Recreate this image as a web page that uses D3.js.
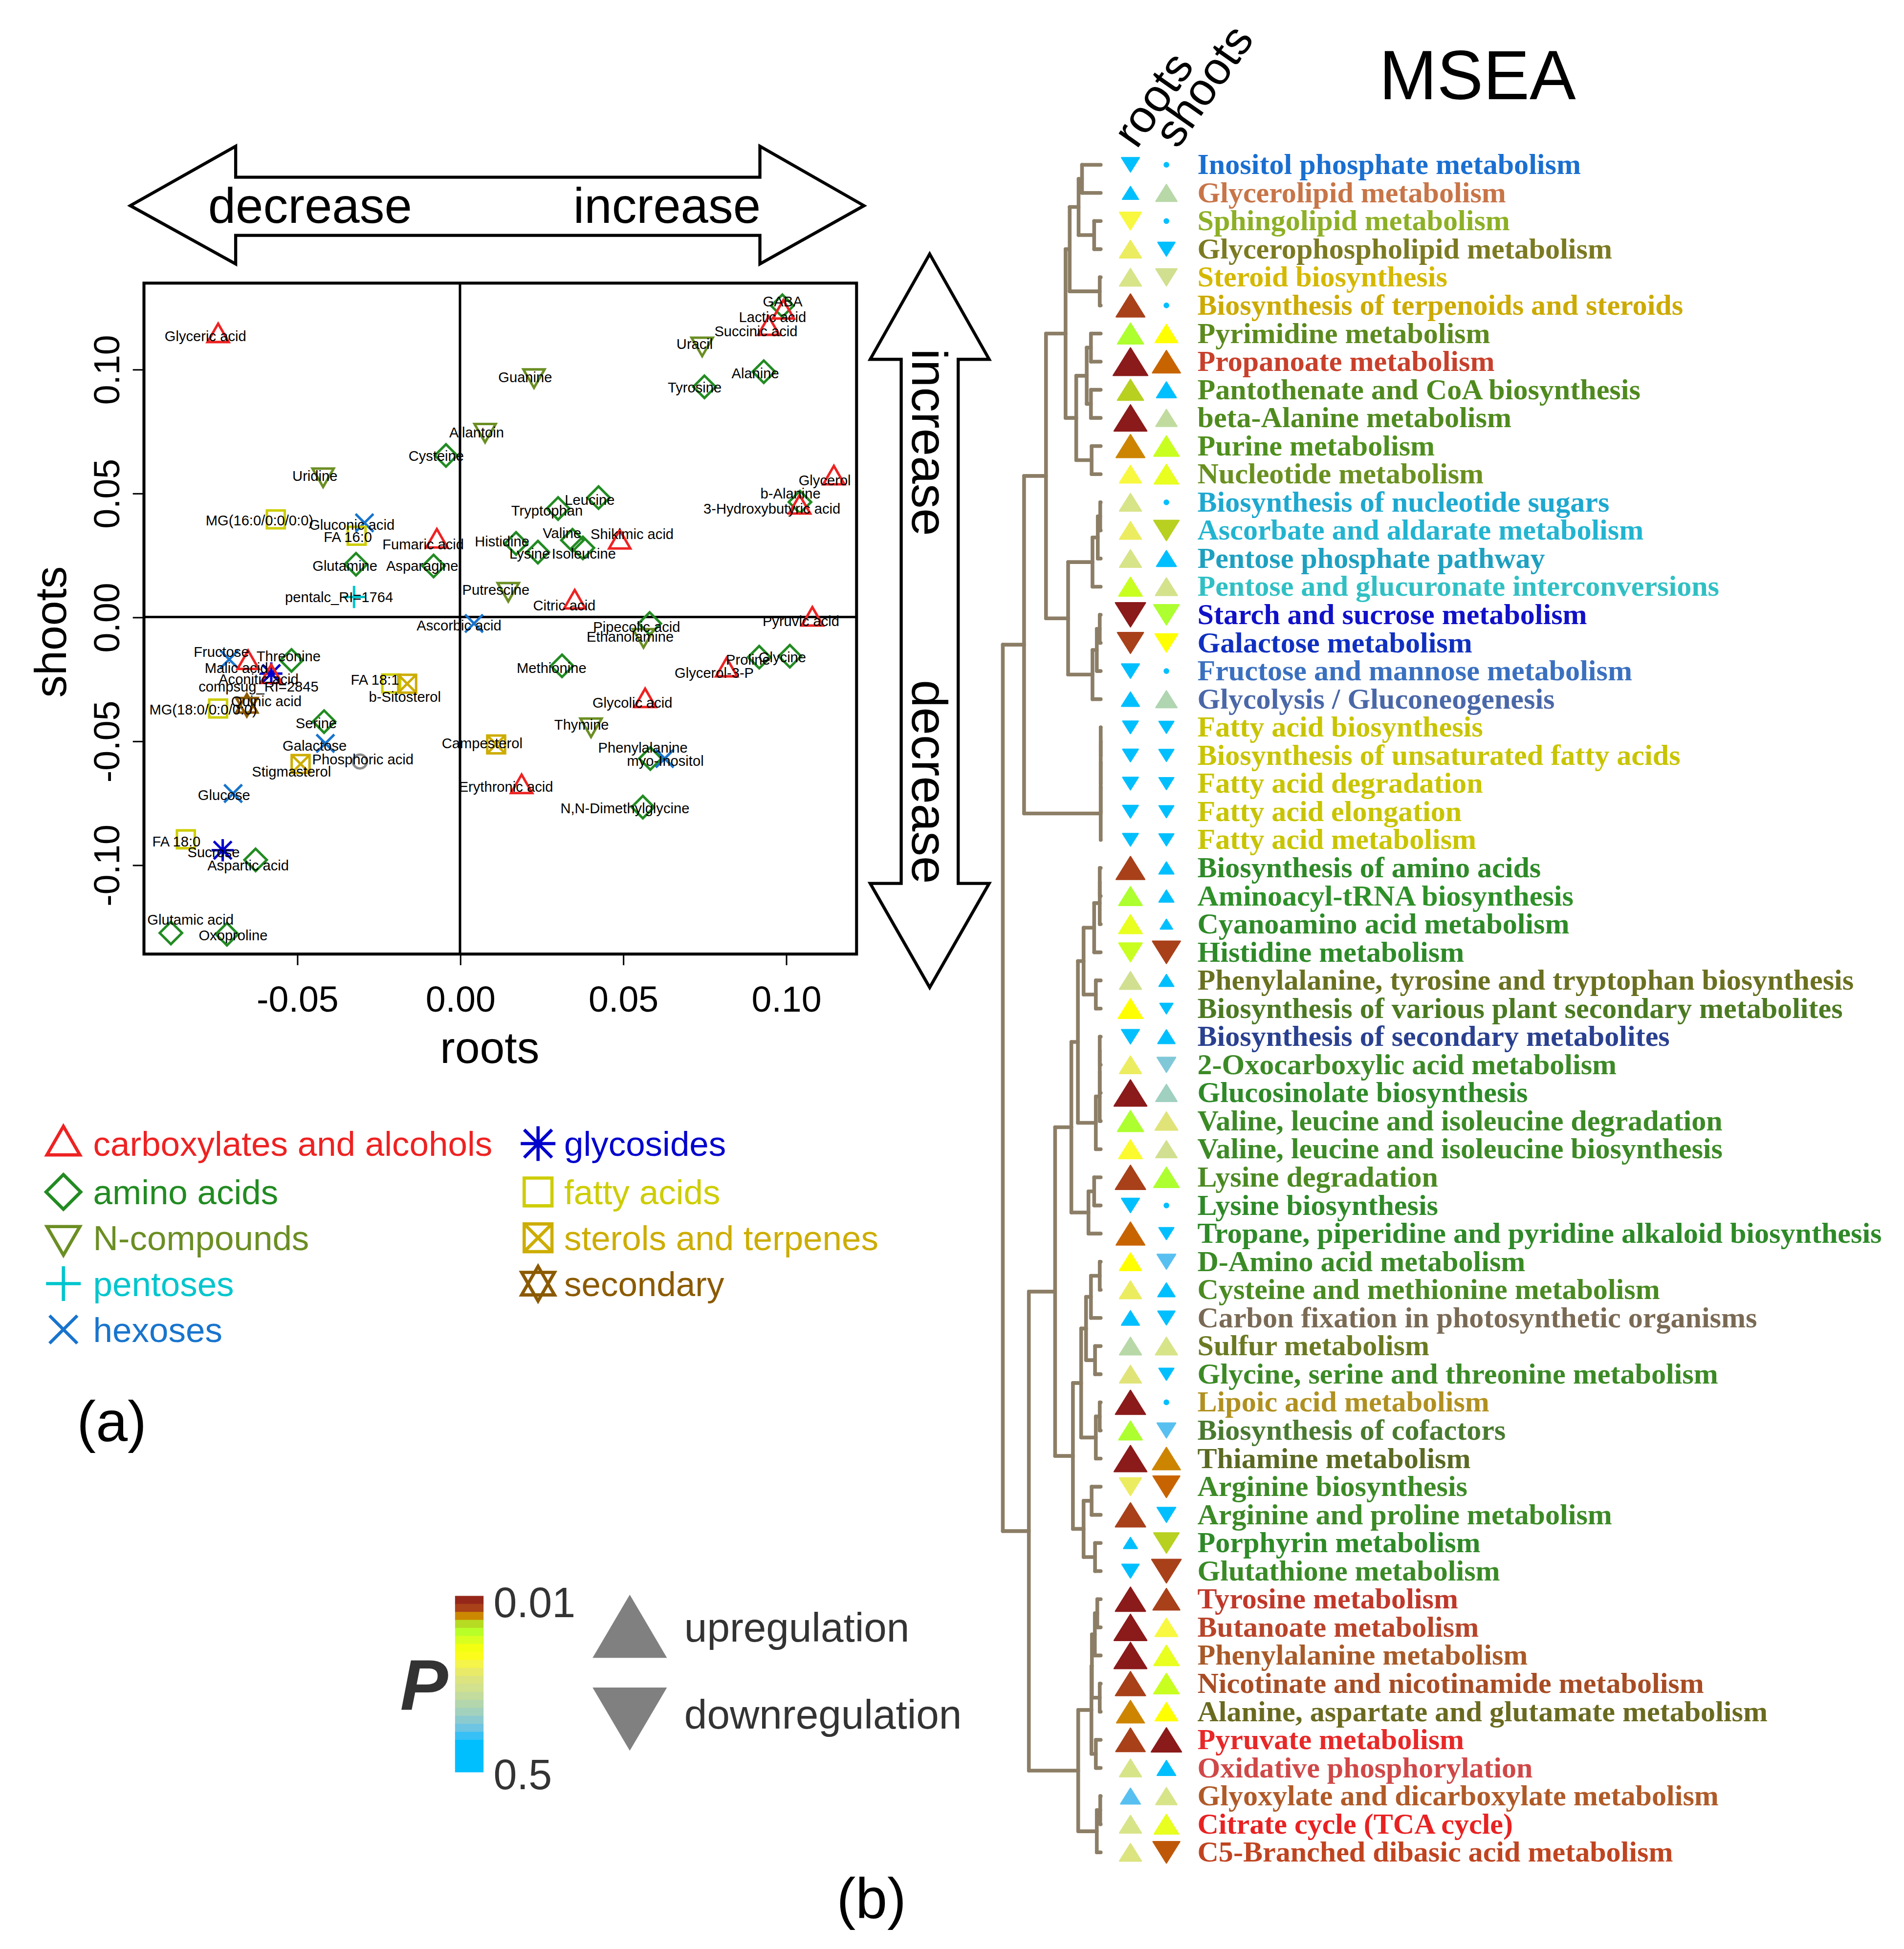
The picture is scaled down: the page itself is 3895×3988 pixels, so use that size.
<!DOCTYPE html>
<html>
<head>
<meta charset="utf-8">
<script src="https://cdn.jsdelivr.net/npm/d3@7"></script>
<style>
  body { margin: 0; background: #fff; }
</style>
</head>
<body>
<svg id="fig"></svg>
<script>
// ---------- panel (a) data: metabolite changes in roots / shoots ----------
const metaboliteNames = ["Glyceric acid","Allantoin","Cysteine","Uridine","MG(16:0/0:0/0:0)","Gluconic acid","FA 16:0","Fumaric acid","Glutamine","Asparagine","pentalc_RI=1764","GABA","Lactic acid","Succinic acid","Uracil","Guanine","Alanine","Tyrosine","Glycerol","b-Alanine","3-Hydroxybutyric acid","Leucine","Tryptophan","Valine","Isoleucine","Shikimic acid","Histidine","Lysine","Putrescine","Citric acid","Pyruvic acid","Ascorbic acid","Fructose","Malic acid","Threonine","compsug_RI=2845","Aconitic acid","Quinic acid","MG(18:0/0:0/0:0)","Serine","Galactose","Stigmasterol","Phosphoric acid","FA 18:1","b-Sitosterol","Campesterol","Erythronic acid","Glucose","FA 18:0","Sucrose","Aspartic acid","Glutamic acid","Oxoproline","Pipecolic acid","Ethanolamine","Methionine","Proline","Glycine","Glycerol-3-P","Glycolic acid","Thymine","Phenylalanine","myo-Inositol","N,N-Dimethylglycine"];
const metaboliteClass = ["carbox","ncomp","amino","ncomp","fatty","hexose","fatty","carbox","amino","amino","pentose","amino","carbox","carbox","ncomp","ncomp","amino","amino","carbox","amino","carbox","amino","amino","amino","amino","carbox","amino","amino","ncomp","carbox","carbox","hexose","hexose","carbox","amino","glycoside","carbox","secondary","fatty","amino","hexose","sterol","other","fatty","sterol","sterol","carbox","hexose","fatty","glycoside","amino","amino","amino","amino","ncomp","amino","amino","amino","carbox","carbox","ncomp","amino","hexose","amino"];
const rootsChange = [-0.0742,0.0077,-0.0043,-0.042,-0.0565,-0.0293,-0.0317,-0.0071,-0.0319,-0.0081,-0.0325,0.0989,0.0992,0.0947,0.0743,0.0227,0.0932,0.075,0.1147,0.1043,0.1042,0.0425,0.0301,0.0345,0.0377,0.049,0.0172,0.0239,0.0148,0.0352,0.1081,0.0043,-0.0708,-0.065,-0.0517,-0.0579,-0.0579,-0.0654,-0.0742,-0.0417,-0.0413,-0.0489,-0.0307,-0.0211,-0.0162,0.0111,0.0189,-0.0696,-0.0841,-0.0728,-0.0627,-0.0887,-0.0715,0.0582,0.0563,0.0313,0.0918,0.1012,0.0818,0.0568,0.0402,0.0584,0.0628,0.0561];
const shootsChange = [0.1139,0.075,0.0652,0.057,0.0394,0.038,0.0328,0.031,0.0213,0.0206,0.0081,0.1256,0.1234,0.1168,0.1098,0.097,0.099,0.0929,0.0565,0.0464,0.0447,0.0482,0.0438,0.031,0.0279,0.0306,0.0297,0.0262,0.0108,0.0064,-0.0005,-0.0026,-0.0171,-0.018,-0.0175,-0.0228,-0.0237,-0.0356,-0.0369,-0.0422,-0.051,-0.0593,-0.0583,-0.0268,-0.0269,-0.0514,-0.0681,-0.0712,-0.0897,-0.0941,-0.098,-0.1275,-0.128,-0.0026,-0.0078,-0.0197,-0.0162,-0.0158,-0.021,-0.0334,-0.0439,-0.0571,-0.0571,-0.0767];
// label anchor points (data units), as placed in the original figure
const labelRoots = [-0.0781,0.0051,-0.0073,-0.0445,-0.0615,-0.0332,-0.0344,-0.0113,-0.0353,-0.0116,-0.0371,0.099,0.0959,0.0908,0.072,0.02,0.0906,0.072,0.1119,0.1014,0.0957,0.0398,0.0267,0.0313,0.038,0.0528,0.0129,0.0214,0.011,0.032,0.1046,-0.0003,-0.0732,-0.0686,-0.0526,-0.0618,-0.0618,-0.0594,-0.0788,-0.0441,-0.0446,-0.0517,-0.0298,-0.0261,-0.0169,0.0068,0.0141,-0.0724,-0.087,-0.0756,-0.065,-0.0827,-0.0696,0.0542,0.0522,0.0281,0.0884,0.0989,0.078,0.0529,0.0373,0.0561,0.063,0.0506];
const labelShoots = [0.1133,0.0746,0.065,0.057,0.0391,0.0372,0.0323,0.0294,0.0206,0.0206,0.008,0.1274,0.121,0.1153,0.1102,0.0968,0.0983,0.0926,0.0552,0.0499,0.0438,0.0473,0.0429,0.0338,0.0256,0.0335,0.0305,0.0256,0.011,0.0046,-0.0017,-0.0034,-0.014,-0.0206,-0.0158,-0.028,-0.025,-0.034,-0.0373,-0.0428,-0.052,-0.0624,-0.0574,-0.0253,-0.0322,-0.051,-0.0685,-0.0719,-0.0906,-0.095,-0.1002,-0.1222,-0.1284,-0.0039,-0.008,-0.0206,-0.0173,-0.0162,-0.0225,-0.0345,-0.0435,-0.0527,-0.058,-0.0771];

const classKeys = ["carbox","amino","ncomp","pentose","hexose","glycoside","fatty","sterol","secondary","other"];
const classLabels = ["carboxylates and alcohols","amino acids","N-compounds","pentoses","hexoses","glycosides","fatty acids","sterols and terpenes","secondary",""];
const xTicks = [-0.05, 0, 0.05, 0.10];
const yTicks = [-0.10, -0.05, 0, 0.05, 0.10];

// ---------- panel (b) data: MSEA ----------
const pathways = ["Inositol phosphate metabolism","Glycerolipid metabolism","Sphingolipid metabolism","Glycerophospholipid metabolism","Steroid biosynthesis","Biosynthesis of terpenoids and steroids","Pyrimidine metabolism","Propanoate metabolism","Pantothenate and CoA biosynthesis","beta-Alanine metabolism","Purine metabolism","Nucleotide metabolism","Biosynthesis of nucleotide sugars","Ascorbate and aldarate metabolism","Pentose phosphate pathway","Pentose and glucuronate interconversions","Starch and sucrose metabolism","Galactose metabolism","Fructose and mannose metabolism","Glycolysis / Gluconeogenesis","Fatty acid biosynthesis","Biosynthesis of unsaturated fatty acids","Fatty acid degradation","Fatty acid elongation","Fatty acid metabolism","Biosynthesis of amino acids","Aminoacyl-tRNA biosynthesis","Cyanoamino acid metabolism","Histidine metabolism","Phenylalanine, tyrosine and tryptophan biosynthesis","Biosynthesis of various plant secondary metabolites","Biosynthesis of secondary metabolites","2-Oxocarboxylic acid metabolism","Glucosinolate biosynthesis","Valine, leucine and isoleucine degradation","Valine, leucine and isoleucine biosynthesis","Lysine degradation","Lysine biosynthesis","Tropane, piperidine and pyridine alkaloid biosynthesis","D-Amino acid metabolism","Cysteine and methionine metabolism","Carbon fixation in photosynthetic organisms","Sulfur metabolism","Glycine, serine and threonine metabolism","Lipoic acid metabolism","Biosynthesis of cofactors","Thiamine metabolism","Arginine biosynthesis","Arginine and proline metabolism","Porphyrin metabolism","Glutathione metabolism","Tyrosine metabolism","Butanoate metabolism","Phenylalanine metabolism","Nicotinate and nicotinamide metabolism","Alanine, aspartate and glutamate metabolism","Pyruvate metabolism","Oxidative phosphorylation","Glyoxylate and dicarboxylate metabolism","Citrate cycle (TCA cycle)","C5-Branched dibasic acid metabolism"];
// direction: 1 = up, -1 = down, 0 = not tested (dot)
const rootsDir = [-1,1,-1,1,1,1,1,1,1,1,1,1,1,1,1,1,-1,-1,-1,1,-1,-1,-1,-1,-1,1,1,1,-1,1,1,-1,1,1,1,1,1,-1,1,1,1,1,1,1,1,1,1,-1,1,1,-1,1,1,1,1,1,1,1,1,1,1];
const rootsP = [0.35,0.35,0.042,0.052,0.07,0.013,0.021,0.01,0.018,0.01,0.0155,0.042,0.07,0.052,0.07,0.024,0.01,0.013,0.35,0.35,0.35,0.35,0.35,0.35,0.35,0.013,0.021,0.029,0.024,0.08,0.035,0.35,0.052,0.01,0.021,0.04,0.013,0.35,0.0145,0.035,0.052,0.35,0.105,0.06,0.01,0.021,0.01,0.052,0.013,0.35,0.35,0.01,0.01,0.01,0.013,0.0155,0.013,0.07,0.21,0.07,0.065];
const rootsImpact = [0.48,0.43,0.59,0.59,0.59,0.77,0.7,0.93,0.7,0.88,0.77,0.59,0.59,0.59,0.59,0.63,0.81,0.7,0.48,0.48,0.42,0.42,0.42,0.42,0.42,0.77,0.63,0.63,0.63,0.59,0.66,0.48,0.59,0.88,0.7,0.63,0.81,0.48,0.77,0.59,0.59,0.48,0.59,0.59,0.81,0.63,0.88,0.59,0.81,0.37,0.46,0.81,0.88,0.88,0.81,0.75,0.79,0.59,0.53,0.59,0.59];
const shootsDir = [0,1,0,-1,-1,0,1,1,1,1,1,1,0,-1,1,1,-1,-1,0,1,-1,-1,-1,-1,-1,1,1,1,-1,1,-1,1,-1,1,1,1,1,0,-1,-1,1,-1,1,-1,0,-1,1,-1,-1,-1,-1,1,1,1,1,1,1,1,1,1,-1];
const shootsP = [0.5,0.105,0.5,0.35,0.08,0.5,0.035,0.0145,0.35,0.095,0.024,0.029,0.5,0.018,0.35,0.075,0.021,0.035,0.5,0.115,0.35,0.35,0.35,0.35,0.35,0.35,0.35,0.35,0.013,0.35,0.35,0.35,0.17,0.135,0.06,0.08,0.021,0.5,0.35,0.21,0.35,0.35,0.07,0.35,0.5,0.21,0.0155,0.0145,0.35,0.018,0.013,0.013,0.042,0.029,0.024,0.035,0.01,0.35,0.07,0.029,0.014];
const shootsImpact = [0,0.57,0,0.46,0.57,0,0.61,0.75,0.53,0.57,0.68,0.66,0,0.68,0.53,0.59,0.68,0.61,0,0.57,0.4,0.4,0.4,0.4,0.4,0.4,0.4,0.33,0.75,0.4,0.35,0.46,0.5,0.57,0.61,0.57,0.68,0,0.4,0.5,0.46,0.46,0.59,0.4,0,0.5,0.75,0.72,0.5,0.68,0.79,0.72,0.61,0.68,0.68,0.61,0.81,0.5,0.57,0.66,0.72];

// hierarchical clustering of pathways (leaf = pathway index, h = relative merge height)
const n = (h, a, b) => ({ h, kids: [a, b] });
const clusterTree = n(1.0,
  n(0.783,
    n(0.559,
      n(0.359,
        n(0.317, n(0.226, n(0.191, 0, 1), n(0.067, 2, 3)), n(0.01, 4, 5)),
        n(0.25, n(0.143, n(0.1, 6, 7), n(0.1, 8, 9)), n(0.093, 10, 11))),
      n(0.333,
        n(0.084, n(0.03, n(0.005, 12, 13), 14), 15),
        n(0.084, n(0.04, n(0.01, 16, 17), 18), 19))),
    n(0, n(0, n(0, n(0, 20, 21), 22), 23), 24)),
  n(0.734,
    n(0.466,
      n(0.3,
        n(0.233,
          n(0.175, n(0.067, n(0.01, n(0.01, 25, 26), 27), 28), n(0.05, 29, 30)),
          n(0.05, n(0.01, n(0.01, n(0.01, 31, 32), 33), 34), 35)),
        n(0.125, n(0.067, 36, 37), 38)),
      n(0.284,
        n(0.2,
          n(0.15, n(0.1, n(0.01, 39, 40), 41), n(0.058, 42, 43)),
          n(0.05, n(0.01, 44, 45), 46)),
        n(0.175, n(0.093, 47, 48), n(0.058, 49, 50)))),
    n(0.23,
      n(0.095, n(0.09, n(0.06, n(0.035, 51, 52), 53), n(0.01, 54, 55)), n(0.05, 56, 57)),
      n(0.04, n(0.005, 58, 59), 60))));

// P colour key (log scale from 0.01 to 0.5)
const pBreaks = [0.01,0.013,0.0145,0.0155,0.018,0.021,0.024,0.029,0.035,0.042,0.052,0.06,0.07,0.08,0.105,0.135,0.17,0.21,0.25,0.5];
const pColors = ["#8B1A1A","#A8401A","#C86400","#CD8500","#B8D020","#ADFF2F","#C8FF20","#E8FF20","#FFFF00","#F8F840","#ECEC60","#E0E478","#D8E488","#D0E090","#B8D8A8","#A0D0C0","#80C8D8","#58C0F0","#00BFFF","#00BFFF"];

// ---------- styles ----------
const classColors = ["#EE2222","#228B22","#6B8E23","#00C5CD","#1874CD","#0000CD","#CDCD00","#CDAD00","#8B5A00","#8C8C8C"];
const classShapes = ["tri","diamond","triDown","plus","cross","asterisk","square","squareCross","star","circle"];
const pathwayColors = ["#1A6FD0","#C87548","#8DB026","#7C7A22","#D4B800","#CCAA00","#5C8A1E","#C8402C","#4F8A1E","#4F8A1E","#4F8F1E","#6A9020","#1EA8D0","#22B4D0","#1EA0C0","#30C0C4","#1010C8","#1030C0","#3A70C0","#4A68A8","#C8C400","#C8C400","#C8C400","#C8C400","#C8C400","#2E8A28","#2E9028","#2E8A28","#2E8A28","#6A7020","#4C7A22","#2A4090","#3C8A26","#2E8A28","#3C8A26","#3C8A26","#4C8A22","#2E8A28","#2E8A28","#3A8A26","#4A8A22","#7A6A55","#6A7A22","#3C8A26","#B09020","#4A7A30","#5A6A22","#3C8A26","#3C8A26","#2E8A28","#3A8A26","#C0382A","#B8442A","#A85A28","#A84C24","#6A6A20","#E82828","#D04848","#B05A28","#E82222","#C04420"];

const SANS = "'Liberation Sans', Arial, Helvetica, sans-serif";
const SERIF = "'Liberation Serif', 'Times New Roman', serif";
const W = 1536, H = 1573;

const svg = d3.select("#fig")
  .attr("width", 3895).attr("height", 3988)
  .attr("viewBox", `0 0 ${W} ${H}`);
svg.append("rect").attr("width", W).attr("height", H).attr("fill", "#fff");

function symbolPath(kind, r) {
  const c = 0.8 * r;
  const tri = `M0,${-r}L${0.95 * r},${0.65 * r}L${-0.95 * r},${0.65 * r}Z`;
  const triDown = `M0,${r}L${0.95 * r},${-0.65 * r}L${-0.95 * r},${-0.65 * r}Z`;
  const sq = `M${-c},${-c}H${c}V${c}H${-c}Z`;
  const cross = `M${-c},${-c}L${c},${c}M${-c},${c}L${c},${-c}`;
  const plus = `M${-r},0H${r}M0,${-r}V${r}`;
  switch (kind) {
    case "tri": return tri;
    case "triDown": return triDown;
    case "diamond": return `M0,${-r}L${r},0L0,${r}L${-r},0Z`;
    case "square": return sq;
    case "squareCross": return sq + cross;
    case "plus": return plus;
    case "cross": return cross;
    case "asterisk": return plus + cross;
    case "star": return tri + triDown;
    default: return d3.arc()({ innerRadius: 0, outerRadius: 0.62 * r, startAngle: 0, endAngle: 2 * Math.PI }).replace(/L0,0Z?$/, "Z");
  }
}

// ---------- arrows ----------
const arrowLine = d3.line();
svg.append("path")
  .attr("d", arrowLine([[105,166],[190,118],[190,143],[613,143],[613,118],[697,166],[613,213],[613,190],[190,190],[190,213]]) + "Z")
  .attr("fill", "#fff").attr("stroke", "#000").attr("stroke-width", 2.5).attr("stroke-linejoin", "miter");
svg.append("path")
  .attr("d", arrowLine([[750,205],[798,290],[773,290],[773,713],[798,713],[750,797],[702,713],[727,713],[727,290],[702,290]]) + "Z")
  .attr("fill", "#fff").attr("stroke", "#000").attr("stroke-width", 2.5);
const arrowText = svg.append("g").attr("font-family", SANS).attr("font-size", 40).attr("text-anchor", "middle");
arrowText.append("text").attr("x", 250).attr("y", 180).text("decrease");
arrowText.append("text").attr("x", 538).attr("y", 180).text("increase");
arrowText.append("text").attr("transform", "translate(736,357) rotate(90)").text("increase");
arrowText.append("text").attr("transform", "translate(736,631) rotate(90)").text("decrease");

// ---------- scatter plot ----------
const x = d3.scaleLinear().domain([-0.09696, 0.12167]).range([116, 691]);
const y = d3.scaleLinear().domain([-0.136, 0.13475]).range([770, 228.5]);
const fmt = v => v.toFixed(2);

const gx = svg.append("g").attr("transform", "translate(0,770)")
  .call(d3.axisBottom(x).tickValues(xTicks).tickSize(9).tickPadding(17).tickFormat(fmt));
gx.attr("font-size", 29).attr("font-family", SANS);
gx.select(".domain").remove();
gx.selectAll(".tick line").attr("stroke", "#000").attr("stroke-width", 1.2);
gx.selectAll(".tick text").attr("fill", "#000");

const gy = svg.append("g").attr("transform", "translate(116,0)")
  .call(d3.axisLeft(y).tickValues(yTicks).tickSize(9).tickFormat(fmt));
gy.attr("font-size", 29).attr("font-family", SANS);
gy.select(".domain").remove();
gy.selectAll(".tick line").attr("stroke", "#000").attr("stroke-width", 1.2);
gy.selectAll(".tick text").attr("fill", "#000")
  .attr("transform", "rotate(-90)").attr("x", 0).attr("y", -20).attr("dy", 0)
  .attr("text-anchor", "middle");

svg.append("line").attr("x1", x(0)).attr("x2", x(0)).attr("y1", y.range()[1]).attr("y2", y.range()[0])
  .attr("stroke", "#000").attr("stroke-width", 2);
svg.append("line").attr("x1", x.range()[0]).attr("x2", x.range()[1]).attr("y1", y(0)).attr("y2", y(0))
  .attr("stroke", "#000").attr("stroke-width", 2);
svg.append("rect").attr("x", 116).attr("y", 228.5).attr("width", 575).attr("height", 541.5)
  .attr("fill", "none").attr("stroke", "#000").attr("stroke-width", 2.4);

svg.append("text").attr("x", 395).attr("y", 858).attr("text-anchor", "middle")
  .attr("font-family", SANS).attr("font-size", 36).text("roots");
svg.append("text").attr("transform", "translate(53,510) rotate(-90)").attr("text-anchor", "middle")
  .attr("font-family", SANS).attr("font-size", 36).text("shoots");

const metabolites = metaboliteNames.map((name, i) => ({
  name, cls: classKeys.indexOf(metaboliteClass[i]),
  x: rootsChange[i], y: shootsChange[i], lx: labelRoots[i], ly: labelShoots[i]
}));

svg.append("g").selectAll("path").data(metabolites).join("path")
  .attr("transform", d => `translate(${x(d.x)},${y(d.y)})`)
  .attr("d", d => symbolPath(classShapes[d.cls], 9))
  .attr("fill", "none")
  .attr("stroke", d => classColors[d.cls])
  .attr("stroke-width", 2);

svg.append("g").attr("font-family", SANS).attr("font-size", 11.5).attr("text-anchor", "middle")
  .selectAll("text").data(metabolites).join("text")
  .attr("x", d => x(d.lx)).attr("y", d => y(d.ly)).attr("dy", "0.35em")
  .attr("fill", "#000").text(d => d.name);

// class legend
const legendRows = [923, 962, 999, 1036, 1073];
const legendItems = classLabels.slice(0, 9).map((label, i) => ({
  label, i, col: i < 5 ? 0 : 1, row: i < 5 ? i : i - 5
}));
const leg = svg.append("g").attr("font-family", SANS).attr("font-size", 28);
const legItem = leg.selectAll("g").data(legendItems).join("g")
  .attr("transform", d => `translate(${d.col ? 434 : 51},${legendRows[d.row]})`);
legItem.append("path")
  .attr("d", d => symbolPath(classShapes[d.i], 14))
  .attr("fill", "none").attr("stroke", d => classColors[d.i]).attr("stroke-width", 2.6);
legItem.append("text").attr("x", d => d.col ? 21 : 24).attr("y", 10)
  .attr("fill", d => classColors[d.i]).text(d => d.label);

svg.append("text").attr("x", 90).attr("y", 1163).attr("text-anchor", "middle")
  .attr("font-family", SANS).attr("font-size", 46).text("(a)");
svg.append("text").attr("x", 703).attr("y", 1548).attr("text-anchor", "middle")
  .attr("font-family", SANS).attr("font-size", 46).text("(b)");

// ---------- P colour key ----------
const colorP = d3.scaleLinear().domain(pBreaks.map(Math.log10)).range(pColors).clamp(true);
const barY = d3.scaleLinear().domain([Math.log10(0.01), Math.log10(0.5)]).range([1288, 1430]);
const nBands = 22;
const bands = d3.range(nBands).map(k => {
  const l0 = barY.domain()[0] + (barY.domain()[1] - barY.domain()[0]) * k / nBands;
  const l1 = barY.domain()[0] + (barY.domain()[1] - barY.domain()[0]) * (k + 1) / nBands;
  return { l0, l1, c: colorP((l0 + l1) / 2) };
});
svg.append("g").selectAll("rect").data(bands).join("rect")
  .attr("x", 367).attr("width", 23)
  .attr("y", d => barY(d.l0)).attr("height", d => barY(d.l1) - barY(d.l0) + 0.4)
  .attr("fill", d => d.c);
const keyText = svg.append("g").attr("font-family", SANS).attr("fill", "#333");
keyText.append("text").attr("x", 398).attr("y", 1305).attr("font-size", 34).text("0.01");
keyText.append("text").attr("x", 398).attr("y", 1444).attr("font-size", 34).text("0.5");
keyText.append("text").attr("x", 342).attr("y", 1380).attr("text-anchor", "middle")
  .attr("font-size", 58).attr("font-weight", "bold").attr("font-style", "italic").text("P");
keyText.append("path").attr("d", arrowLine([[508,1287],[538,1338],[478,1338]]) + "Z").attr("fill", "#808080");
keyText.append("path").attr("d", arrowLine([[478,1362],[538,1362],[508,1413]]) + "Z").attr("fill", "#808080");
keyText.append("text").attr("x", 552).attr("y", 1325).attr("font-size", 33).text("upregulation");
keyText.append("text").attr("x", 552).attr("y", 1395).attr("font-size", 33).text("downregulation");

// ---------- panel (b): MSEA ----------
svg.append("text").attr("x", 1192).attr("y", 80).attr("text-anchor", "middle")
  .attr("font-family", SANS).attr("font-size", 56).text("MSEA");
svg.append("text").attr("transform", "translate(917,121) rotate(-55)")
  .attr("font-family", SANS).attr("font-size", 37).text("roots");
svg.append("text").attr("transform", "translate(950,121) rotate(-55)")
  .attr("font-family", SANS).attr("font-size", 37).text("shoots");

const rowY = d3.scaleLinear().domain([0, pathways.length - 1]).range([133, 1495]);
const hX = d3.scaleLinear().domain([0, 1]).range([888, 809]);
const dendro = svg.append("g").attr("stroke", "#8C7E66").attr("stroke-width", 3)
  .attr("stroke-linecap", "round").attr("fill", "none");
function place(node) {
  if (typeof node === "number") return { x: hX(0), y: rowY(node) };
  const kids = node.kids.map(place);
  const p = { x: hX(node.h), y: (kids[0].y + kids[1].y) / 2 };
  dendro.append("line").attr("x1", p.x).attr("x2", p.x).attr("y1", kids[0].y).attr("y2", kids[1].y);
  kids.forEach(k => dendro.append("line").attr("x1", p.x).attr("x2", k.x).attr("y1", k.y).attr("y2", k.y));
  return p;
}
place(clusterTree);

const sizeScale = d3.scaleLinear().domain([0, 1]).range([0, 30]);
const msea = pathways.map((name, i) => ({
  name, i,
  marks: [
    { cx: 912, dir: rootsDir[i], p: rootsP[i], imp: rootsImpact[i] },
    { cx: 941, dir: shootsDir[i], p: shootsP[i], imp: shootsImpact[i] }
  ]
}));
function markPath(m, cy) {
  const w = sizeScale(m.imp), h = 0.8 * w;
  if (m.dir > 0) return arrowLine([[m.cx, cy - h / 2], [m.cx + w / 2, cy + h / 2], [m.cx - w / 2, cy + h / 2]]) + "Z";
  return arrowLine([[m.cx - w / 2, cy - h / 2], [m.cx + w / 2, cy - h / 2], [m.cx, cy + h / 2]]) + "Z";
}
const rows = svg.append("g").selectAll("g").data(msea).join("g");
rows.each(function (d) {
  const g = d3.select(this);
  const cy = rowY(d.i);
  d.marks.forEach(m => {
    const col = colorP(Math.log10(m.p));
    if (m.dir === 0) {
      g.append("circle").attr("cx", m.cx).attr("cy", cy).attr("r", 2.3).attr("fill", col);
    } else {
      g.append("path").attr("d", markPath(m, cy)).attr("fill", col)
        .attr("stroke", col).attr("stroke-width", 1).attr("stroke-linejoin", "round");
    }
  });
  g.append("text").attr("x", 966).attr("y", cy + 7.5)
    .attr("font-family", SERIF).attr("font-weight", "bold").attr("font-size", 23.7)
    .attr("fill", pathwayColors[d.i]).text(d.name);
});
</script>
</body>
</html>
